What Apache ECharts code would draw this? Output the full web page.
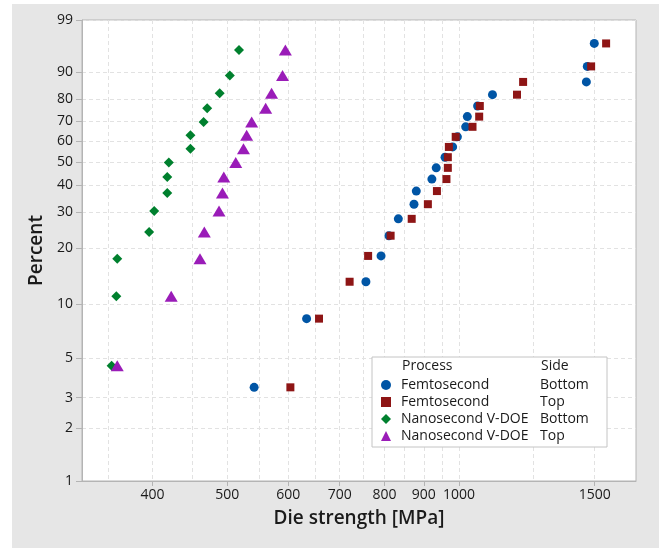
<!DOCTYPE html>
<html>
<head>
<meta charset="utf-8">
<script src="https://cdn.jsdelivr.net/npm/echarts@6/dist/echarts.min.js"></script>
<style>
  html, body { margin: 0; padding: 0; background: #fff; }
  #chart { width: 659px; height: 548px; }
</style>
</head>
<body>
<div id="chart"></div>
<script>
// percent (median ranks)
const femtoPct = [3.43, 8.33, 13.24, 18.14, 23.04, 27.94, 32.84, 37.75, 42.65, 47.55,
  52.45, 57.35, 62.25, 67.16, 72.06, 76.96, 81.86, 86.76, 91.67, 96.57];
const nanoPct = [4.55, 11.04, 17.53, 24.03, 30.52, 37.01, 43.51, 50.0, 56.49, 62.99,
  69.48, 75.97, 82.47, 88.96, 95.45];

// die strength [MPa]
const femtoBottom = [542, 634, 757, 792, 811, 834, 874, 880, 922, 934,
  959, 981, 995, 1020, 1025, 1057, 1105, 1463, 1467, 1498];
const femtoTop = [604, 658, 721, 762, 815, 868, 911, 936, 963, 967,
  967, 970, 990, 1041, 1062, 1064, 1189, 1211, 1484, 1552];
const nanoBottom = [354, 359, 360, 396, 402, 418, 418, 420, 448, 448,
  466, 471, 489, 504, 518];
const nanoTop = [360, 423, 461, 467, 488, 493, 495, 513, 525, 530,
  538, 561, 571, 590, 595];

const processNames = ['Femtosecond', 'Femtosecond', 'Nanosecond V-DOE', 'Nanosecond V-DOE'];
const sideNames = ['Bottom', 'Top', 'Bottom', 'Top'];

// tick labels / grid lines
const xTickLabels = [400, 500, 600, 700, 800, 900, 1000, 1500];
const xGridLines = [350, 400, 450, 500, 550, 600, 650, 700, 750, 800, 850, 900, 950, 1000, 1250, 1500];
const yTickLabels = [1, 2, 3, 5, 10, 20, 30, 40, 50, 60, 70, 80, 90, 99];
const xRange = [324, 1697];

// log x scale, weibull y scale
const lx = v => Math.log10(v);
const wy = p => Math.log(-Math.log(1 - p / 100));

const colors = ['#0055a5', '#8e1515', '#00802e', '#9a1cb8'];
const symbols = ['circle', 'rect', 'diamond', 'triangle'];
const sizes = [9, 8, 10, [13, 11]];
const values = [femtoBottom, femtoTop, nanoBottom, nanoTop];
const pcts = [femtoPct, femtoPct, nanoPct, nanoPct];

const font = '"Open Sans", "Noto Sans", sans-serif';
const axisGray = '#b4b4b4';
const textColor = '#1a1a1a';

const seriesNames = processNames.map((p, i) => p + ', ' + sideNames[i]);

const series = values.map((vals, i) => ({
  name: seriesNames[i],
  type: 'scatter',
  xAxisIndex: 0,
  yAxisIndex: 0,
  symbol: symbols[i],
  symbolSize: sizes[i],
  itemStyle: { color: colors[i], opacity: 1 },
  data: vals.map((v, j) => [lx(v), wy(pcts[i][j])])
}));

const chart = echarts.init(document.getElementById('chart'));

chart.setOption({
  backgroundColor: '#e6e6e6',
  animation: false,
  textStyle: { fontFamily: font },
  grid: [
    { left: 82, right: 23, top: 20, bottom: 67, show: true, backgroundColor: '#fff',
      borderColor: axisGray, borderWidth: 1 },
    { left: 82, right: 23, top: 20, bottom: 67 }
  ],
  xAxis: [{
    gridIndex: 0,
    type: 'value',
    min: lx(xRange[0]),
    max: lx(xRange[1]),
    name: 'Die strength [MPa]',
    nameLocation: 'middle',
    nameGap: 28,
    nameTextStyle: { fontSize: 19, fontWeight: 600, color: textColor, fontFamily: font },
    axisLine: { show: true, onZero: false, lineStyle: { color: axisGray } },
    axisTick: { show: false, customValues: xGridLines.map(lx) },
    axisLabel: {
      customValues: xTickLabels.map(lx),
      formatter: v => String(Math.round(Math.pow(10, v))),
      fontSize: 14, color: textColor, margin: 7, fontFamily: font
    },
    splitLine: { show: true, lineStyle: { color: '#e2e2e2', type: [4, 3] } }
  }, {
    // only the short ticks under the labelled values
    gridIndex: 1,
    type: 'value',
    min: lx(xRange[0]),
    max: lx(xRange[1]),
    axisLine: { show: false, onZero: false },
    axisTick: { show: true, length: 5, customValues: xTickLabels.map(lx), lineStyle: { color: axisGray } },
    axisLabel: { show: false },
    splitLine: { show: false }
  }],
  yAxis: [{
    gridIndex: 0,
    type: 'value',
    min: wy(1),
    max: wy(99),
    name: 'Percent',
    nameLocation: 'middle',
    nameGap: 36,
    nameTextStyle: { fontSize: 19, fontWeight: 600, color: textColor, fontFamily: font },
    axisLine: { show: true, onZero: false, lineStyle: { color: axisGray } },
    axisTick: { show: true, length: 6, customValues: yTickLabels.map(wy), lineStyle: { color: axisGray } },
    axisLabel: {
      customValues: yTickLabels.map(wy),
      formatter: v => String(Math.round(100 * (1 - Math.exp(-Math.exp(v))))),
      fontSize: 14, color: textColor, margin: 9, fontFamily: font
    },
    splitLine: { show: true, lineStyle: { color: '#e2e2e2', type: [4, 3] } }
  }, {
    gridIndex: 1,
    type: 'value',
    show: false
  }],
  legend: {
    orient: 'vertical',
    left: 372,
    top: 357,
    padding: [21, 5, 4, 9],
    itemGap: 3,
    itemWidth: 10,
    itemHeight: 10,
    borderColor: '#c4c4c4',
    borderWidth: 1,
    backgroundColor: '#fff',
    data: seriesNames,
    formatter: name => {
      const i = seriesNames.indexOf(name);
      return '{a|' + processNames[i] + '}{b|' + sideNames[i] + '}';
    },
    textStyle: {
      fontSize: 14, color: textColor, fontFamily: font, lineHeight: 14,
      rich: {
        a: { width: 139, padding: [0, 0, 0, 5], fontSize: 14, color: textColor, fontFamily: font },
        b: { width: 62, fontSize: 14, color: textColor, fontFamily: font }
      }
    }
  },
  graphic: [
    { type: 'rect', left: 0, top: 0, shape: { width: 12, height: 548 }, style: { fill: '#fff' }, silent: true },
    { type: 'rect', left: 0, top: 0, shape: { width: 659, height: 4 }, style: { fill: '#fff' }, silent: true },
    { type: 'text', left: 402, top: 359, z: 100,
      style: { text: 'Process', fontSize: 14, fill: textColor, fontFamily: font } },
    { type: 'text', left: 541, top: 359, z: 100,
      style: { text: 'Side', fontSize: 14, fill: textColor, fontFamily: font } }
  ],
  series: series
});
</script>
</body>
</html>
